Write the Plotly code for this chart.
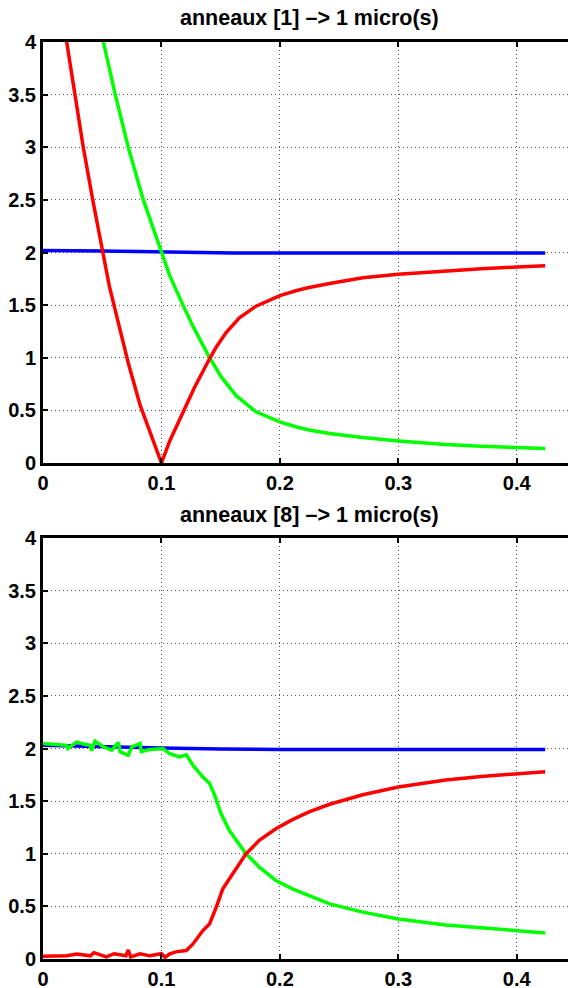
import plotly.graph_objects as go

# ---------------- data ----------------
# Top panel: anneaux [1]
t1_blue_x = [0.0, 0.02, 0.05, 0.08, 0.10, 0.13, 0.16, 0.20, 0.30, 0.424]
t1_blue_y = [2.02, 2.02, 2.015, 2.01, 2.005, 2.0, 1.995, 1.995, 1.995, 1.995]

t1_green_x = [0.047, 0.051, 0.061, 0.072, 0.0847, 0.100, 0.107, 0.1182,
              0.1266, 0.135, 0.1406, 0.1504, 0.163, 0.1798, 0.200, 0.2134, 0.2246, 0.242,
              0.270, 0.300, 0.340, 0.370, 0.400, 0.424]
t1_green_y = [4.35, 4.0, 3.5, 3.0, 2.5, 2.0, 1.78, 1.50,
              1.30, 1.12, 1.0, 0.82, 0.64, 0.487, 0.39, 0.345, 0.313, 0.28,
              0.242, 0.21, 0.175, 0.16, 0.148, 0.137]

t1_red_x = [0.015, 0.020, 0.027, 0.034, 0.042, 0.050, 0.056, 0.063, 0.072, 0.082, 0.091, 0.100,
            0.107, 0.118, 0.128, 0.1406, 0.1462, 0.1546, 0.1658, 0.1798, 0.191, 0.200,
            0.2134, 0.2246, 0.242, 0.270, 0.300, 0.340, 0.370, 0.400, 0.424]
t1_red_y = [4.4, 4.0, 3.5, 3.0, 2.5, 2.02, 1.68, 1.36, 0.95, 0.55, 0.27, 0.0,
            0.21, 0.48, 0.72, 0.99, 1.10, 1.24, 1.38, 1.49, 1.55, 1.59,
            1.636, 1.668, 1.705, 1.76, 1.793, 1.826, 1.845, 1.862, 1.875]

# Bottom panel: anneaux [8]
t8_blue_x = [0.0, 0.05, 0.10, 0.15, 0.20, 0.30, 0.424]
t8_blue_y = [2.03, 2.015, 2.005, 1.995, 1.99, 1.99, 1.99]

t8_green_x = [0.0, 0.010, 0.020, 0.021, 0.0284, 0.035, 0.0397, 0.041, 0.0439, 0.051, 0.058,
              0.0636, 0.065, 0.072, 0.075, 0.082, 0.083, 0.090, 0.1014, 0.107, 0.115,
              0.121, 0.1266, 0.135, 0.1406, 0.1448, 0.1504, 0.1574, 0.1658, 0.1714, 0.1826,
              0.1966, 0.2106, 0.2246, 0.242, 0.270, 0.300, 0.340, 0.370, 0.400, 0.424]
t8_green_y = [2.048, 2.04, 2.03, 2.00, 2.06, 2.04, 2.03, 1.98, 2.07, 2.016, 1.984,
              2.057, 1.97, 1.936, 2.016, 2.048, 1.97, 1.99, 2.0, 1.95, 1.92,
              1.94, 1.84, 1.73, 1.67, 1.56, 1.38, 1.22, 1.095, 1.0, 0.873,
              0.746, 0.667, 0.603, 0.524, 0.445, 0.381, 0.324, 0.295, 0.27, 0.248]

t8_red_x = [0.0, 0.020, 0.0284, 0.040, 0.043, 0.0535, 0.060, 0.070, 0.072, 0.074, 0.082,
            0.090, 0.100, 0.103, 0.107, 0.113, 0.121, 0.1266, 0.135, 0.1406, 0.1462,
            0.1518, 0.1602, 0.1714, 0.1826, 0.1966, 0.2106, 0.2246, 0.242, 0.270, 0.300,
            0.340, 0.370, 0.400, 0.424]
t8_red_y = [0.025, 0.03, 0.048, 0.03, 0.06, 0.02, 0.05, 0.03, 0.086, 0.02, 0.05,
            0.03, 0.05, 0.016, 0.048, 0.07, 0.08, 0.143, 0.27, 0.333, 0.49,
            0.667, 0.81, 1.0, 1.127, 1.238, 1.324, 1.397, 1.47, 1.56, 1.635,
            1.70, 1.735, 1.76, 1.78]

x_tickvals = [0, 0.1, 0.2, 0.3, 0.4]
x_ticktext = ["0", "0.1", "0.2", "0.3", "0.4"]
y_tickvals = [0, 0.5, 1, 1.5, 2, 2.5, 3, 3.5, 4]
y_ticktext = ["0", "0.5", "1", "1.5", "2", "2.5", "3", "3.5", "4"]

titles = ["anneaux [1] \u2013> 1 micro(s)", "anneaux [8] \u2013> 1 micro(s)"]

# ---------------- figure ----------------
BLUE, GREEN, RED = "#0000ff", "#00ff00", "#ff0000"
LW = 3.5

fig = go.Figure()
panels = [
    ("x", "y", t1_blue_x, t1_blue_y, t1_green_x, t1_green_y, t1_red_x, t1_red_y),
    ("x2", "y2", t8_blue_x, t8_blue_y, t8_green_x, t8_green_y, t8_red_x, t8_red_y),
]
for xa, ya, bx, by, gx, gy, rx, ry in panels:
    fig.add_trace(go.Scatter(x=bx, y=by, mode="lines", line=dict(color=BLUE, width=LW),
                             xaxis=xa, yaxis=ya, showlegend=False))
    fig.add_trace(go.Scatter(x=gx, y=gy, mode="lines", line=dict(color=GREEN, width=LW),
                             xaxis=xa, yaxis=ya, showlegend=False))
    fig.add_trace(go.Scatter(x=rx, y=ry, mode="lines", line=dict(color=RED, width=LW),
                             xaxis=xa, yaxis=ya, showlegend=False))

# The page body adds an 8px margin, so the figure is 8px smaller and shifted.
W, H = 568.0, 980.0
dom_top = [1 - 455 / H, 1 - 34 / H]
dom_bot = [1 - 951 / H, 1 - 530 / H]

tickfont = dict(family="Liberation Sans, Arial, sans-serif", size=20, color="black", weight="bold")

def xaxis(anchor):
    return dict(domain=[0, 1], range=[0, 0.45], anchor=anchor, automargin=False,
                tickvals=x_tickvals, ticktext=x_ticktext,
                ticks="inside", ticklen=5, tickwidth=2, tickcolor="black",
                showline=True, linewidth=3, linecolor="black", mirror="ticks",
                showgrid=True, gridcolor="#555555", gridwidth=1, griddash="1px,3px",
                zeroline=False, tickfont=tickfont, fixedrange=True)

def yaxis(anchor, dom):
    return dict(domain=dom, range=[0, 4], anchor=anchor, automargin=False,
                tickvals=y_tickvals, ticktext=y_ticktext,
                ticks="inside", ticklen=5, tickwidth=2, tickcolor="black",
                showline=True, linewidth=3, linecolor="black", mirror="ticks",
                showgrid=True, gridcolor="#555555", gridwidth=1, griddash="1px,3px",
                zeroline=False, tickfont=tickfont, fixedrange=True)

title_font = dict(family="Liberation Sans, Arial, sans-serif", size=21.5, color="black", weight="bold")

fig.update_layout(
    width=W, height=H,
    margin=dict(l=35, r=0, t=0, b=0, autoexpand=False),
    paper_bgcolor="white", plot_bgcolor="white",
    xaxis=xaxis("y"), yaxis=yaxis("x", dom_top),
    xaxis2=xaxis("y2"), yaxis2=yaxis("x2", dom_bot),
    annotations=[
        dict(text=titles[0], x=0.5, y=1 - 10 / H, xref="paper", yref="paper",
             xanchor="center", yanchor="middle", showarrow=False, font=title_font),
        dict(text=titles[1], x=0.5, y=1 - 507 / H, xref="paper", yref="paper",
             xanchor="center", yanchor="middle", showarrow=False, font=title_font),
    ],
)

fig.write_html("out.html")
